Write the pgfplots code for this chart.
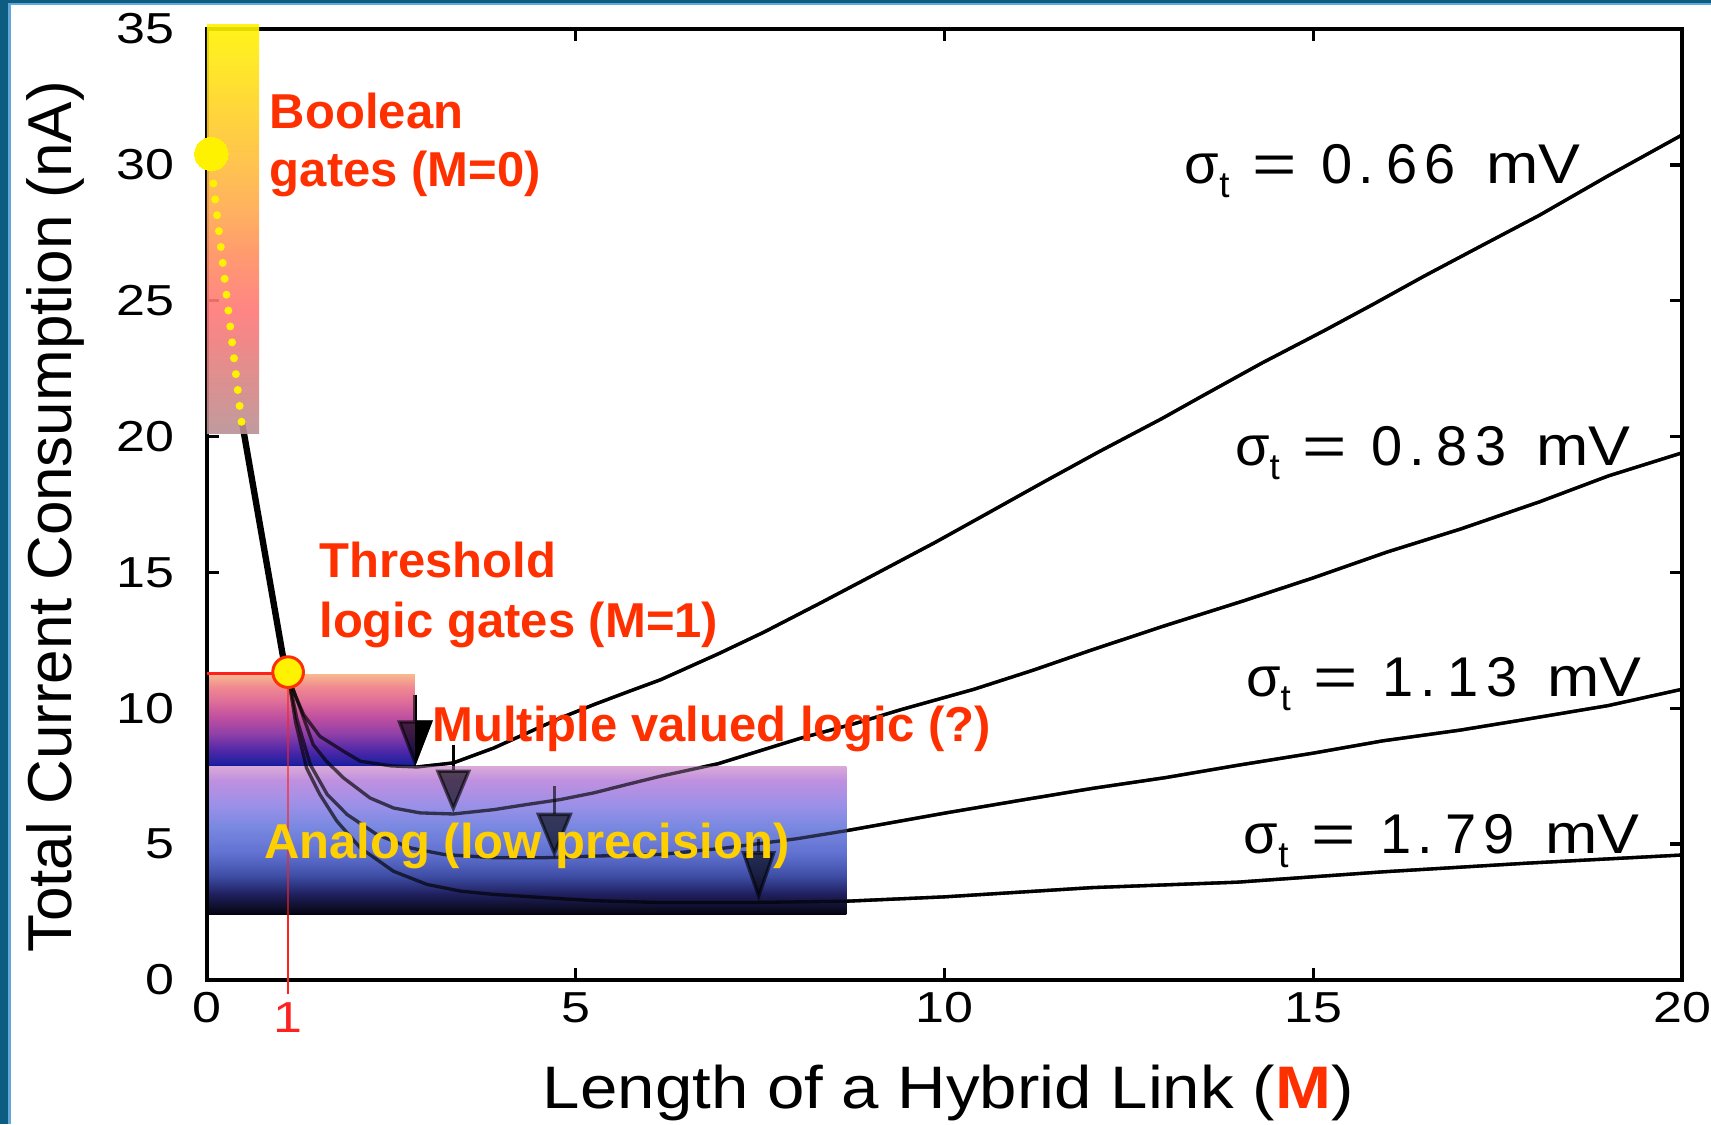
\documentclass[border=0pt]{standalone}
\usepackage{fontspec}
\setmainfont{Liberation Sans}
\usepackage{graphicx}
\usepackage{pgfplots}
\pgfplotsset{compat=1.18}
\usetikzlibrary{arrows.meta}

\definecolor{redtxt}{HTML}{FF3000}
\definecolor{redline}{HTML}{FF2020}
\definecolor{yeltxt}{HTML}{FFD000}
\definecolor{dotyel}{HTML}{FFF200}
\definecolor{frameblue}{HTML}{0D5C82}
\definecolor{framelight}{HTML}{64A8DA}

\definecolor{bo0}{HTML}{B99196}
\definecolor{bo1}{HTML}{D08888}
\definecolor{bo2}{HTML}{F07C7C}
\definecolor{bo3}{HTML}{FF7878}
\definecolor{bo4}{HTML}{FF9060}
\definecolor{bo5}{HTML}{FFA850}
\definecolor{bo6}{HTML}{FFBA40}
\definecolor{bo7}{HTML}{FFD028}
\definecolor{bo8}{HTML}{FFE810}
\definecolor{bo9}{HTML}{FFF200}
\pgfdeclareverticalshading{boolsh}{100bp}{color(0bp)=(bo0); color(25bp)=(bo0); color(29.5bp)=(bo1); color(36.5bp)=(bo2); color(40bp)=(bo3); color(47bp)=(bo4); color(52bp)=(bo5); color(57bp)=(bo6); color(64bp)=(bo7); color(71bp)=(bo8); color(75bp)=(bo9); color(100bp)=(bo9)}

\definecolor{th0}{HTML}{1010A0}
\definecolor{th1}{HTML}{2020A0}
\definecolor{th2}{HTML}{5028A8}
\definecolor{th3}{HTML}{9040A8}
\definecolor{th4}{HTML}{C050A0}
\definecolor{th5}{HTML}{E07098}
\definecolor{th6}{HTML}{F08890}
\definecolor{th7}{HTML}{F8B890}
\pgfdeclareverticalshading{thrsh}{100bp}{color(0bp)=(th0); color(25bp)=(th0); color(27bp)=(th1); color(34bp)=(th2); color(43bp)=(th3); color(52bp)=(th4); color(61bp)=(th5); color(68bp)=(th6); color(75bp)=(th7); color(100bp)=(th7)}

\definecolor{an0}{HTML}{000010}
\definecolor{an1}{HTML}{080818}
\definecolor{an2}{HTML}{202060}
\definecolor{an3}{HTML}{4050A8}
\definecolor{an4}{HTML}{6070D0}
\definecolor{an5}{HTML}{7888E0}
\definecolor{an6}{HTML}{9890E8}
\definecolor{an7}{HTML}{C090E0}
\definecolor{an8}{HTML}{D8A8D8}
\pgfdeclareverticalshading{anash}{100bp}{color(0bp)=(an0); color(25bp)=(an0); color(26bp)=(an1); color(32bp)=(an2); color(38.5bp)=(an3); color(45.5bp)=(an4); color(54.5bp)=(an5); color(61.5bp)=(an6); color(70.5bp)=(an7); color(75bp)=(an8); color(100bp)=(an8)}

\newcommand\redfont{\fontsize{14.7}{17}\selectfont\bfseries}
\newcommand\siglab[1]{σ\raisebox{-4.2pt}{\fontsize{11}{11}\selectfont t}\hspace{6.8pt}\scalebox{1.36}[1]{=}\hspace{7.3pt}#1\hspace{9pt}\scalebox{1.12}[1]{mV}}

\pgfplotstableread{
x y
1.10 11.2
1.20 10.45
1.31 9.77
1.53 8.97
1.85 8.42
2.08 8.05
2.50 7.88
2.85 7.84
3.34 7.99
3.89 8.54
4.34 9.09
4.79 9.64
5.25 10.14
5.70 10.6
6.15 11.05
6.93 12.0
7.55 12.8
8.30 13.85
9.00 14.85
9.87 16.1
10.6 17.2
11.36 18.35
12.1 19.45
12.94 20.65
13.5 21.5
14.3 22.7
15.15 23.9
15.8 24.85
16.5 25.9
17.3 27.05
18.07 28.15
19.0 29.6
20.0 31.1
}\cA

\pgfplotstableread{
x y
1.10 11.2
1.25 10.1
1.44 8.66
1.62 8.05
1.85 7.44
2.21 6.7
2.53 6.33
2.89 6.15
3.34 6.11
3.89 6.27
4.34 6.46
4.79 6.64
5.25 6.89
5.70 7.2
6.15 7.5
6.93 7.96
8.05 8.9
8.80 9.45
9.41 9.95
10.4 10.7
11.2 11.4
12.0 12.15
13.0 13.05
14.05 13.95
15.0 14.8
16.0 15.75
17.0 16.6
18.07 17.6
19.0 18.55
20.0 19.4
}\cB

\pgfplotstableread{
x y
1.10 11.2
1.22 9.6
1.40 7.93
1.63 6.83
1.90 6.09
2.30 5.36
2.76 4.86
3.21 4.62
3.89 4.5
4.57 4.5
5.25 4.56
6.15 4.62
7.00 4.85
8.00 5.2
8.68 5.5
10.02 6.15
11.0 6.6
12.0 7.05
13.0 7.45
13.97 7.9
15.0 8.35
15.94 8.8
17.0 9.2
17.9 9.6
19.0 10.1
20.0 10.7
}\cC

\pgfplotstableread{
x y
1.10 11.2
1.20 9.5
1.35 7.8
1.53 6.83
1.76 5.85
2.08 4.86
2.53 4.0
2.98 3.52
3.44 3.27
3.89 3.15
4.57 3.03
5.25 2.92
6.15 2.85
7.32 2.85
8.67 2.9
10.0 3.06
12.0 3.4
13.97 3.6
15.94 3.98
17.9 4.3
20.0 4.6
}\cD

\begin{document}
\begin{tikzpicture}
\fill[white] (-62.1pt,-43.2pt) rectangle (451.2pt,294pt);
\begin{axis}[
  scale only axis, width=442.5pt, height=285.3pt,
  at={(0,0)}, anchor=south west,
  xmin=0, xmax=20, ymin=0, ymax=35,
  xtick={0,5,10,15,20}, ytick={0,5,...,35},
  axis line style={line width=1.3pt},
  major tick style={line width=1pt, black},
  major tick length=3.6pt,
  tick align=inside,
  clip=false,
  xticklabel style={anchor=north, inner sep=0pt, yshift=-3.6pt, font=\fontsize{13}{13}\selectfont},
  yticklabel style={anchor=east, inner sep=0pt, xshift=-9.6pt, font=\fontsize{13}{13}\selectfont},
  xticklabel={\scalebox{1.2}[1]{\pgfmathprintnumber[assume math mode=true]{\tick}}},
  yticklabel={\scalebox{1.2}[1]{\pgfmathprintnumber[assume math mode=true]{\tick}}},
]
% thick line Boolean -> threshold
\addplot[black, line width=1.9pt] coordinates {(0.47,20.6) (1.05,11.6)};
% Boolean gradient bar
\addplot[draw=none, shade, shading=boolsh, fill opacity=0.9] coordinates {(0,20.1) (0.706,20.1) (0.706,35.15) (0,35.15)} -- cycle;
% curves
\addplot[black, line width=1pt] table {\cA};
\addplot[black, line width=1pt] table {\cB};
\addplot[black, line width=1pt] table {\cC};
\addplot[black, line width=1pt] table {\cD};
% arrows
\addplot[black, line width=1pt, -{Triangle[width=10.5pt,length=14pt]}] coordinates {(2.82,10.5) (2.82,7.84)};
\addplot[black, line width=1pt, -{Triangle[width=10.5pt,length=13pt]}] coordinates {(3.34,8.66) (3.34,6.15)};
\addplot[black, line width=1pt, -{Triangle[width=10.8pt,length=13.5pt]}] coordinates {(4.71,7.13) (4.71,4.5)};
\addplot[black, line width=1pt, -{Triangle[width=10.2pt,length=15pt]}] coordinates {(7.48,5.2) (7.48,2.9)};
% red vertical line at M=1
\addplot[redline, line width=0.7pt] coordinates {(1.10,11.2) (1.10,-0.5)};
% boxes
\addplot[draw=none, shade, shading=thrsh] coordinates {(0,7.84) (2.82,7.84) (2.82,11.25) (0,11.25)} -- cycle;
\addplot[draw=none, shade, shading=anash] coordinates {(0,2.41) (8.67,2.41) (8.67,7.84) (0,7.84)} -- cycle;
% overlays seen through the boxes
\addplot[black, line width=1pt, opacity=0.65] table {\cA};
\addplot[black, line width=1pt, opacity=0.65] table {\cB};
\addplot[black, line width=1pt, opacity=0.65] table {\cC};
\addplot[black, line width=1pt, opacity=0.65] table {\cD};
\addplot[black, line width=1pt, opacity=0.6, -{Triangle[width=10.5pt,length=14pt]}] coordinates {(2.82,10.5) (2.82,7.84)};
\addplot[black, line width=1pt, opacity=0.6, -{Triangle[width=10.5pt,length=13pt]}] coordinates {(3.34,8.66) (3.34,6.15)};
\addplot[black, line width=1pt, opacity=0.6, -{Triangle[width=10.8pt,length=13.5pt]}] coordinates {(4.71,7.13) (4.71,4.5)};
\addplot[black, line width=1pt, opacity=0.6, -{Triangle[width=10.2pt,length=15pt]}] coordinates {(7.48,5.2) (7.48,2.9)};
\addplot[redline, line width=0.7pt, opacity=0.6] coordinates {(1.10,11.2) (1.10,2.41)};
% left spine redrawn over the boxes
\addplot[black, line width=1.3pt] coordinates {(0,0) (0,20.1)};
% red horizontal line
\addplot[redline, line width=0.8pt] coordinates {(0,11.27) (1.0,11.27)};
% dotted yellow line and circles
\addplot[dotyel, line width=2.4pt, line cap=round, dash pattern=on 0pt off 4.8pt] coordinates {(0.06,29.9) (0.47,20.5)};
\addplot[only marks, mark=*, mark size=5pt, mark options={fill=dotyel, draw=dotyel, line width=0pt}] coordinates {(0.06,30.4)};
\addplot[only marks, mark=*, mark size=4.6pt, mark options={fill=dotyel, draw=redtxt, line width=0.9pt}] coordinates {(1.10,11.33)};
% labels
\node[anchor=base west, inner sep=0pt, text=redtxt, font=\redfont] at (axis cs:0.845,31.35) {Boolean};
\node[anchor=base west, inner sep=0pt, text=redtxt, font=\redfont] at (axis cs:0.845,29.2) {gates (M=0)};
\node[anchor=base west, inner sep=0pt, text=redtxt, font=\redfont] at (axis cs:1.515,14.82) {Threshold};
\node[anchor=base west, inner sep=0pt, text=redtxt, font=\redfont] at (axis cs:1.515,12.6) {logic gates (M=1)};
\node[anchor=base west, inner sep=0pt, text=redtxt, font=\redfont] at (axis cs:3.05,8.79) {Multiple valued logic (?)};
\node[anchor=base west, inner sep=0pt, text=yeltxt, font=\redfont] at (axis cs:0.765,4.47) {Analog (low precision)};
\node[anchor=base west, inner sep=0pt, font=\fontsize{16.8}{18}\selectfont] at (axis cs:13.25,29.3) {\siglab{0\kern2pt.\kern3.5pt6\kern2.3pt6}};
\node[anchor=base west, inner sep=0pt, font=\fontsize{16.8}{18}\selectfont] at (axis cs:13.93,18.95) {\siglab{0\kern2pt.\kern3.5pt8\kern2.3pt3}};
\node[anchor=base west, inner sep=0pt, font=\fontsize{16.8}{18}\selectfont] at (axis cs:14.08,10.45) {\siglab{1\kern2pt.\kern3.5pt1\kern2.3pt3}};
\node[anchor=base west, inner sep=0pt, font=\fontsize{16.8}{18}\selectfont] at (axis cs:14.05,4.65) {\siglab{1\kern2pt.\kern3.5pt7\kern2.3pt9}};
\node[anchor=north, inner sep=0pt, text=redline, font=\fontsize{13}{13}\selectfont] at ([yshift=-6.5pt]axis cs:1.10,0) {\scalebox{1.2}[1]{1}};
\node[rotate=90, anchor=base, inner sep=0pt, font=\fontsize{18.6}{18.6}\selectfont] at ([xshift=-40.5pt]rel axis cs:0,0.487) {Total Current Consumption (nA)};
\node[anchor=base, inner sep=0pt, font=\fontsize{18}{18}\selectfont] at ([yshift=-38.4pt]axis cs:10.05,0) {\scalebox{1.12}[1]{Length of a Hybrid Link (\textcolor{redtxt}{\textbf{M}})}};
\end{axis}
% slide frame
\fill[frameblue] (-62.1pt,-43.2pt) rectangle (-59.6pt,294pt);
\fill[framelight] (-59.6pt,-43.2pt) rectangle (-58.9pt,294pt);
\fill[frameblue] (-62.1pt,293pt) rectangle (451.2pt,294pt);
\fill[framelight] (-58.9pt,292.5pt) rectangle (451.2pt,293pt);
\pgfresetboundingbox
\useasboundingbox (-62.1pt,-43.2pt) rectangle (451.2pt,294pt);
\end{tikzpicture}
\end{document}
